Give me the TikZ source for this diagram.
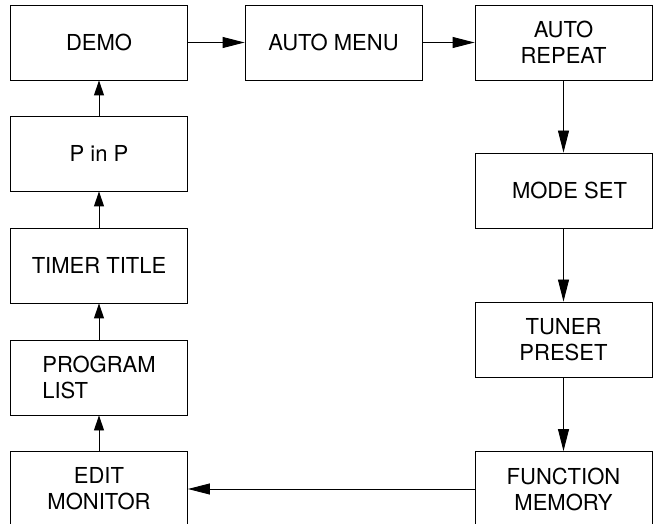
\documentclass[tikz,border=0pt]{standalone}
\usepackage{fontspec}
\setmainfont{TeX Gyre Heros}
\usepackage{tikz}
\usetikzlibrary{arrows.meta}

\tikzset{
  menubox/.style={draw, line width=0.9pt, minimum width=177pt, minimum height=75pt,
    inner sep=0pt, align=center, font=\fontsize{22}{26}\selectfont},
  longarr/.style={line width=0.9pt, -{Triangle[length=22pt, width=11pt]}},
  shortarr/.style={line width=0.9pt, -{Triangle[length=15pt, width=10pt]}}
}

\begin{document}
\begin{tikzpicture}[x=1pt, y=-1pt]
    \useasboundingbox (0,0) rectangle (657,524);

    % left column
    \node[menubox] (demo)  at (99,42.5)  {DEMO};
    \node[menubox] (pinp)  at (99,153.5) {P in P};
    \node[menubox] (timer) at (99,265.5) {TIMER TITLE};
    \node[menubox, align=left] (prog) at (99,377.5) {PROGRAM\\LIST};
    \node[menubox] (edit)  at (99,489)   {EDIT\\MONITOR};

    % top row and right column
    \node[menubox] (amenu)  at (333.5,42.5) {AUTO MENU};
    \node[menubox] (arep)   at (563.5,42.5) {AUTO\\REPEAT};
    \node[menubox] (mode)   at (563.5,190.5) {\hspace*{12pt}MODE SET};
    \node[menubox] (tuner)  at (563.5,339.5) {TUNER\\PRESET};
    \node[menubox] (fmem)   at (563.5,489)   {FUNCTION\\MEMORY};

    \draw[longarr] (demo) -- (amenu);
    \draw[longarr] (amenu) -- (arep);
    \draw[longarr] (arep) -- (mode);
    \draw[longarr] (mode) -- (tuner);
    \draw[longarr] (tuner) -- (fmem);
    \draw[longarr] (fmem) -- (edit);

    \draw[shortarr] (edit) -- (prog);
    \draw[shortarr] (prog) -- (timer);
    \draw[shortarr] (timer) -- (pinp);
    \draw[shortarr] (pinp) -- (demo);
  \end{tikzpicture}
\end{document}
